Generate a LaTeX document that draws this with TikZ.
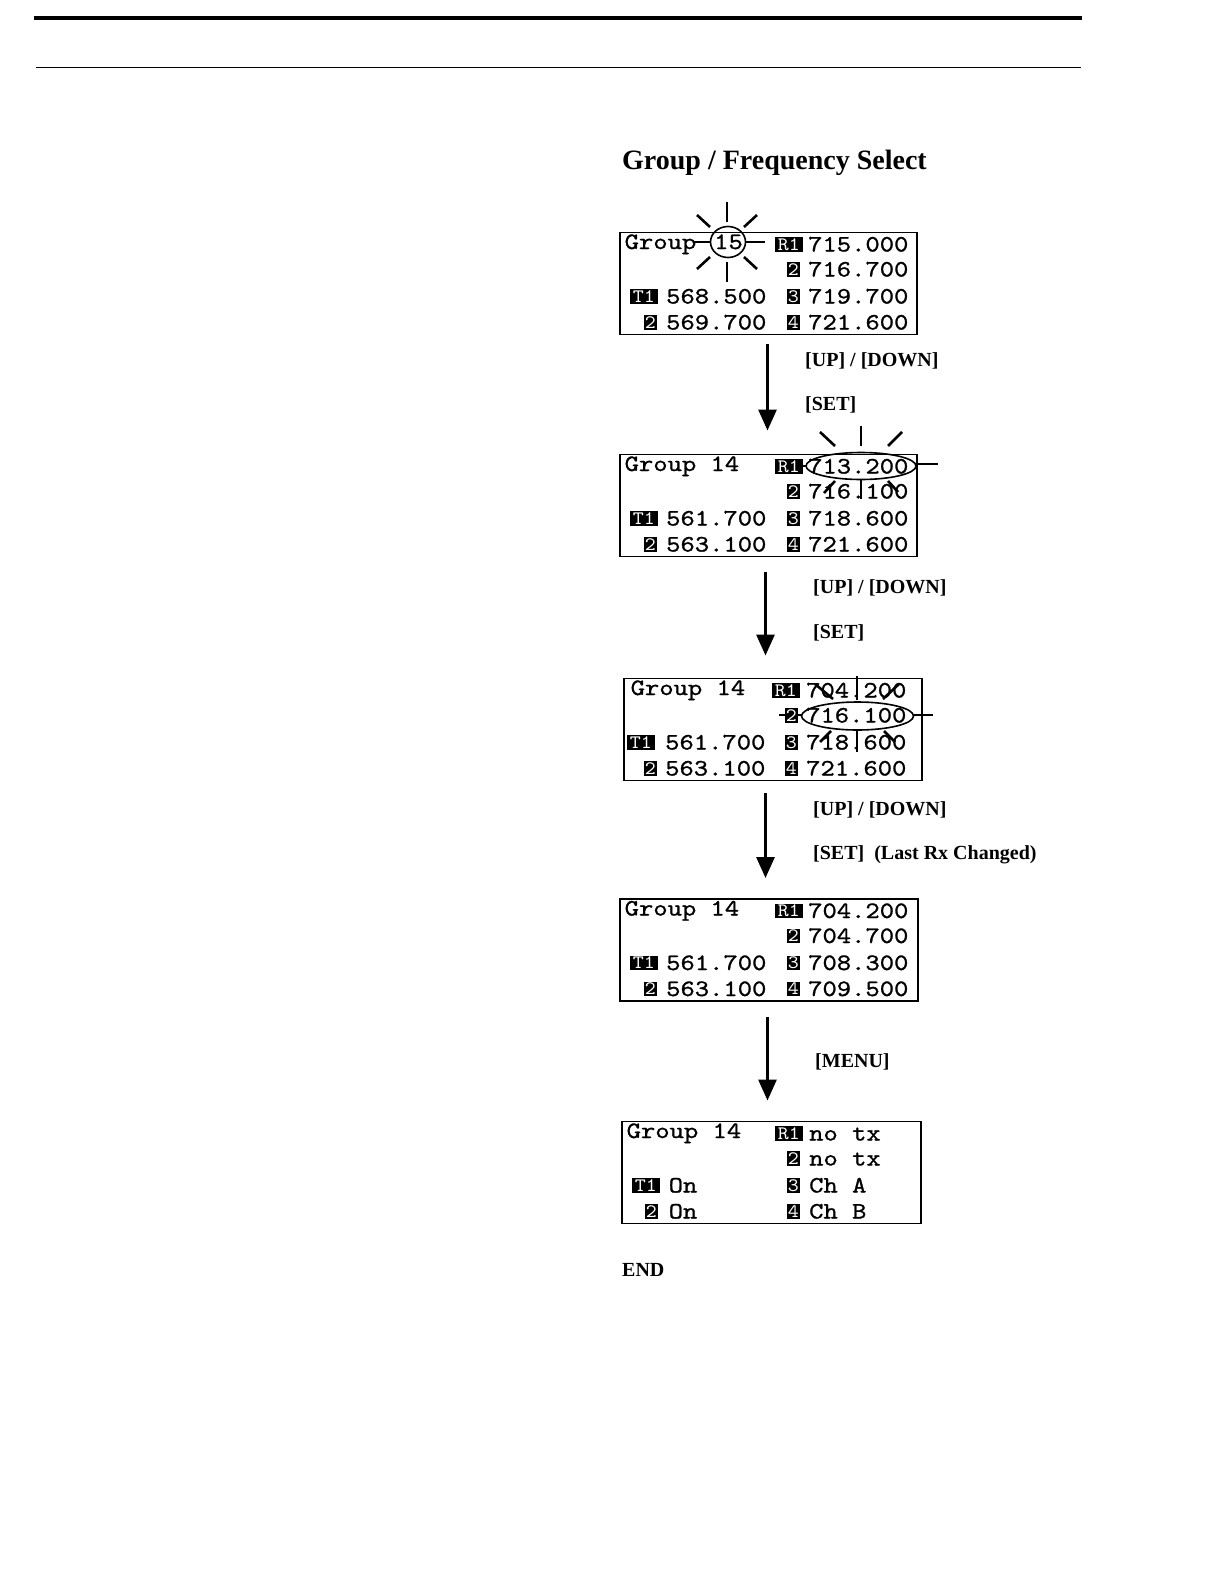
\documentclass[tikz,border=0pt]{standalone}
\usepackage{fontspec}
\setmainfont{Liberation Serif}
\newfontfamily\lcdfamily{lmmono10-regular.otf}[FakeStretch=1.16, FakeBold=1]
\newfontfamily\bdgfamily{lmmono10-regular.otf}[FakeStretch=1.1]
\usetikzlibrary{arrows.meta}
\newcommand\lcdfont{\lcdfamily\fontsize{23.5pt}{24pt}\selectfont}
\newcommand\bdgfont{\bdgfamily\fontsize{19pt}{19pt}\selectfont}
\newcommand\lblfont{\fontsize{20pt}{20pt}\selectfont\bfseries}
\newcommand\ttlfont{\fontsize{28pt}{28pt}\selectfont\bfseries}
\begin{document}
\begin{tikzpicture}[x=1pt,y=-1pt,
  lcdbox/.style={draw=black, line width=1.8pt, anchor=north west, minimum height=102pt, inner sep=0pt, rectangle},
  lcdt/.style={anchor=base west, inner sep=0pt, font=\lcdfont},
  bdg/.style={fill=black, text=white, inner sep=0pt, anchor=south east, minimum height=14.5pt, font=\bdgfont},
  bdgone/.style={bdg, minimum width=13pt},
  bdgtwo/.style={bdg, minimum width=28pt},
  lbl/.style={anchor=base west, inner sep=0pt, font=\lblfont},
  ray/.style={line width=2.6pt},
  ring/.style={line width=1.6pt},
  flow/.style={line width=3pt, -{Triangle[length=21pt,width=18pt]}}]
\useasboundingbox (0,0) rectangle (1224,1584);
\fill[white] (0,0) rectangle (1224,1584);
% header rules
\draw[line width=4pt] (34,18) -- (1082,18);
\draw[line width=1.2pt] (36,67.5) -- (1081,67.5);
% title
\node[anchor=base west, inner sep=0pt, font=\ttlfont] (title) at (622,169.5) {Group / Frequency Select};

% ---------- highlight marks (drawn first, under the text) ----------
% sun round "15"
\draw[ring] (728,242) ellipse [x radius=17.5pt, y radius=15.5pt];
\draw[ray] (727,202) -- (727,222);
\draw[ray] (727,262) -- (727,282);
\draw[ray] (693,242) -- (710.5,242);
\draw[ray] (745.5,242) -- (765,242);
\draw[ray] (697,215) -- (710,227);
\draw[ray] (757,215) -- (744,227);
\draw[ray] (697,269) -- (710,257);
\draw[ray] (757,269) -- (744,257);
% sun round 713.200
\draw[ring] (861,466) ellipse [x radius=55pt, y radius=13.5pt];
\draw[ray] (861,426) -- (861,446);
\draw[ray] (820,432) -- (835,446);
\draw[ray] (902,432) -- (888,446);
\draw[ray] (916,464) -- (938,464);
\draw[ray] (806,466) -- (785,466);
\draw[ray] (861,480) -- (861,499);
\draw[ray] (835,481) -- (824,493);
\draw[ray] (888,481) -- (898,492);
% sun round 716.100
\draw[ring] (857.5,716) ellipse [x radius=56pt, y radius=14pt];
\draw[ray] (857,676) -- (857,700);
\draw[ray] (815,684) -- (833,699);
\draw[ray] (899,684) -- (883,699);
\draw[ray] (913.5,715) -- (933,715);
\draw[ray] (801.5,715) -- (779,715);
\draw[ray] (857,731) -- (857,752);
\draw[ray] (831,731) -- (820,742);
\draw[ray] (884,731) -- (895,742);

% ---------- panel 1 ----------
\begin{scope}[shift={(0,231.5)}]
  \node[lcdbox, minimum width=297pt] (box1) at (619,0) {};
  \node[lcdt] (b1grp) at (624.5,17.5) {Group};
  \node[lcdt, anchor=base] (b1num) at (728.5,17.5) {15};
  \node[bdgtwo] (b1R1) at (803,20.5) {R1};
  \node[lcdt] (b1r1) at (808,20) {715.000};
  \node[bdgone] (b1R2) at (800,45.5) {2};
  \node[lcdt] (b1r2) at (808,45) {716.700};
  \node[bdgtwo] (b1T1) at (658,72.5) {T1};
  \node[lcdt] (b1t1) at (666,72) {568.500};
  \node[bdgone] (b1R3) at (800,72.5) {3};
  \node[lcdt] (b1r3) at (808,72) {719.700};
  \node[bdgone] (b1T2) at (657,98.5) {2};
  \node[lcdt] (b1t2) at (666,98) {569.700};
  \node[bdgone] (b1R4) at (800,98.5) {4};
  \node[lcdt] (b1r4) at (808,98) {721.600};
\end{scope}

% ---------- panel 2 ----------
\begin{scope}[shift={(0,453.5)}]
  \node[lcdbox, minimum width=297pt] (box2) at (619,0) {};
  \node[lcdt] (b2grp) at (624.5,17.5) {Group 14};
  \node[bdgtwo] (b2R1) at (803,20.5) {R1};
  \node[lcdt] (b2r1) at (808,20) {713.200};
  \node[bdgone] (b2R2) at (800,45.5) {2};
  \node[lcdt] (b2r2) at (808,45) {716.100};
  \node[bdgtwo] (b2T1) at (658,72.5) {T1};
  \node[lcdt] (b2t1) at (666,72) {561.700};
  \node[bdgone] (b2R3) at (800,72.5) {3};
  \node[lcdt] (b2r3) at (808,72) {718.600};
  \node[bdgone] (b2T2) at (657,98.5) {2};
  \node[lcdt] (b2t2) at (666,98) {563.100};
  \node[bdgone] (b2R4) at (800,98.5) {4};
  \node[lcdt] (b2r4) at (808,98) {721.600};
\end{scope}

% ---------- panel 3 ----------
\begin{scope}[shift={(0,677.5)}]
  \node[lcdbox, minimum width=298pt] (box3) at (623,0) {};
  \node[lcdt] (b3grp) at (630.5,17.5) {Group 14};
  \node[bdgtwo] (b3R1) at (800,20.5) {R1};
  \node[lcdt] (b3r1) at (806,20) {704.200};
  \node[bdgone] (b3R2) at (798,45.5) {2};
  \node[lcdt] (b3r2) at (806,45) {716.100};
  \node[bdgtwo] (b3T1) at (655,72.5) {T1};
  \node[lcdt] (b3t1) at (665,72) {561.700};
  \node[bdgone] (b3R3) at (798,72.5) {3};
  \node[lcdt] (b3r3) at (806,72) {718.600};
  \node[bdgone] (b3T2) at (657,98.5) {2};
  \node[lcdt] (b3t2) at (665,98) {563.100};
  \node[bdgone] (b3R4) at (798,98.5) {4};
  \node[lcdt] (b3r4) at (806,98) {721.600};
\end{scope}

% ---------- panel 4 ----------
\begin{scope}[shift={(0,898)}]
  \node[lcdbox, minimum width=298pt] (box4) at (619,0) {};
  \node[lcdt] (b4grp) at (624.5,17.5) {Group 14};
  \node[bdgtwo] (b4R1) at (803,20.5) {R1};
  \node[lcdt] (b4r1) at (808,20) {704.200};
  \node[bdgone] (b4R2) at (800,45.5) {2};
  \node[lcdt] (b4r2) at (808,45) {704.700};
  \node[bdgtwo] (b4T1) at (658,72.5) {T1};
  \node[lcdt] (b4t1) at (666,72) {561.700};
  \node[bdgone] (b4R3) at (800,72.5) {3};
  \node[lcdt] (b4r3) at (808,72) {708.300};
  \node[bdgone] (b4T2) at (657,98.5) {2};
  \node[lcdt] (b4t2) at (666,98) {563.100};
  \node[bdgone] (b4R4) at (800,98.5) {4};
  \node[lcdt] (b4r4) at (808,98) {709.500};
\end{scope}

% ---------- panel 5 ----------
\begin{scope}[shift={(0,1120.5)}]
  \node[lcdbox, minimum width=299pt] (box5) at (621,0) {};
  \node[lcdt] (b5grp) at (626.5,17.5) {Group 14};
  \node[bdgtwo] (b5R1) at (803,20.5) {R1};
  \node[lcdt] (b5r1) at (809,20) {no tx};
  \node[bdgone] (b5R2) at (800,45.5) {2};
  \node[lcdt] (b5r2) at (809,45) {no tx};
  \node[bdgtwo] (b5T1) at (660,72.5) {T1};
  \node[lcdt] (b5t1) at (668.5,72) {On};
  \node[bdgone] (b5R3) at (800,72.5) {3};
  \node[lcdt] (b5r3) at (809,72) {Ch A};
  \node[bdgone] (b5T2) at (658,98.5) {2};
  \node[lcdt] (b5t2) at (668.5,98) {On};
  \node[bdgone] (b5R4) at (800,98.5) {4};
  \node[lcdt] (b5r4) at (809,98) {Ch B};
\end{scope}

% ---------- arrows ----------
\coordinate (ax1) at (767.5,0);
\coordinate (ax2) at (765.5,0);
\coordinate (ax3) at (765.5,0);
\coordinate (ax4) at (767.5,0);
\draw[flow, shorten <=9pt, shorten >=23pt] (box1.south -| ax1) -- (box2.north -| ax1);
\draw[flow, shorten <=15pt, shorten >=22pt] (box2.south -| ax2) -- (box3.north -| ax2);
\draw[flow, shorten <=12pt, shorten >=20pt] (box3.south -| ax3) -- (box4.north -| ax3);
\draw[flow, shorten <=15pt, shorten >=20pt] (box4.south -| ax4) -- (box5.north -| ax4);

% ---------- labels ----------
\node[lbl] (l1a) at (805,366) {[UP] / [DOWN]};
\node[lbl] (l1b) at (805,410.5) {[SET]};
\node[lbl] (l2a) at (813,593.5) {[UP] / [DOWN]};
\node[lbl] (l2b) at (813,638.5) {[SET]};
\node[lbl] (l3a) at (813,815.5) {[UP] / [DOWN]};
\node[lbl] (l3b) at (813,859.5) {[SET]\ \ (Last Rx Changed)};
\node[lbl] (l4a) at (815,1067.5) {[MENU]};
\node[lbl] (fin) at (622,1276) {END};
\end{tikzpicture}
\end{document}
